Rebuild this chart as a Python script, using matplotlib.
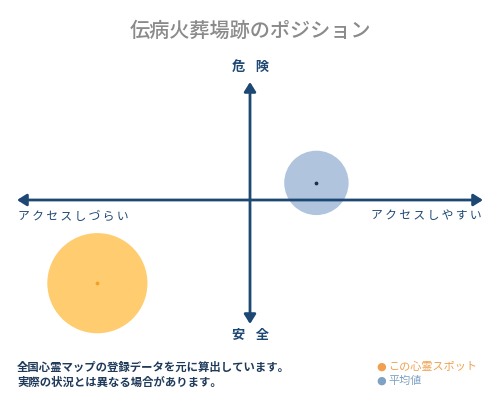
import matplotlib
matplotlib.use("Agg")
import matplotlib.pyplot as plt

plt.rcParams['font.family'] = ['Noto Sans CJK JP', 'DejaVu Sans']

# data
title = "伝病火葬場跡のポジション"
x_labels = ["アクセスしづらい", "アクセスしやすい"]
y_labels = ["安全", "危険"]
series_names = ["この心霊スポット", "平均値"]
series_x = [-0.655, 0.285]     # access score (-1 hard .. +1 easy)
series_y = [-0.705, 0.145]     # danger score (-1 safe .. +1 dangerous)
notes = ["全国心霊マップの登録データを元に算出しています。",
         "実際の状況とは異なる場合があります。"]

NAVY = "#1d4873"
fill_colors = ["#FFCC70", "#B0C4DE"]
dot_colors = ["#F5A020", "#1d3050"]
legend_colors = ["#F0A050", "#7FA2C4"]
legend_dot = ["#F0A050", "#7FA2C4"]
marker_sizes = [5200, 2150]

W, H = 500, 400
fig = plt.figure(figsize=(5, 4), dpi=100)

# axes area in pixels: x 17..483, y(top) 82..324
left_px, right_px, top_px, bot_px = 17, 483, 82, 324
ax = fig.add_axes([left_px / W, 1 - bot_px / H, (right_px - left_px) / W, (bot_px - top_px) / H])
zero_y_px = 200
ymin = -(bot_px - zero_y_px) / (zero_y_px - top_px)
ax.set_xlim(-1, 1)
ax.set_ylim(ymin, 1)
ax.axis('off')

# bubbles
for i in range(len(series_x)):
    ax.scatter(series_x[i], series_y[i], s=marker_sizes[i], color=fill_colors[i],
               edgecolors='none', zorder=2, clip_on=False)
    ax.scatter(series_x[i], series_y[i], s=3, color=dot_colors[i], zorder=4,
               clip_on=False)

# axes arrows
arrow_kw = dict(arrowstyle='<|-|>,head_length=0.4,head_width=0.25', color=NAVY,
                lw=2.0, shrinkA=0, shrinkB=0, mutation_scale=14)
ax.annotate('', xy=(1, 0), xytext=(-1, 0), arrowprops=arrow_kw, zorder=3,
            annotation_clip=False)
ax.annotate('', xy=(0, 1), xytext=(0, ymin), arrowprops=arrow_kw, zorder=3,
            annotation_clip=False)

sp = "\u2009"
def spaced(s, n=1):
    return (sp * n).join(s)

# axis labels
fig.text(250 / W, 1 - 67 / H, spaced(y_labels[1], 4), ha='center', va='center',
         fontsize=9.5, fontweight='bold', color=NAVY)
fig.text(250 / W, 1 - 335 / H, spaced(y_labels[0], 4), ha='center', va='center',
         fontsize=9.5, fontweight='bold', color=NAVY)
fig.text(18 / W, 1 - 216 / H, spaced(x_labels[0], 1), ha='left', va='center',
         fontsize=8.5, color=NAVY)
fig.text(482 / W, 1 - 216 / H, spaced(x_labels[1], 1), ha='right', va='center',
         fontsize=8.5, color=NAVY)

# title
fig.text(250 / W, 1 - 31 / H, title, ha='center', va='center', fontsize=14.5,
         color="#8a8a8a", fontweight='medium')

# notes
fig.text(17 / W, 1 - 367 / H, notes[0], ha='left', va='center', fontsize=8.2,
         color="#1f3a5a", fontweight='bold')
fig.text(17 / W, 1 - 382 / H, notes[1], ha='left', va='center', fontsize=8.2,
         color="#1f3a5a", fontweight='bold')

# legend
for i, name in enumerate(series_names):
    ypx = 367 + i * 14
    fig.text(381 / W, 1 - ypx / H, "●", ha='center', va='center', fontsize=8,
             color=legend_dot[i], family=['DejaVu Sans'])
    fig.text(388 / W, 1 - ypx / H, name, ha='left', va='center', fontsize=8,
             color=legend_colors[i])

fig.savefig("out.png", dpi=100, facecolor='white')
